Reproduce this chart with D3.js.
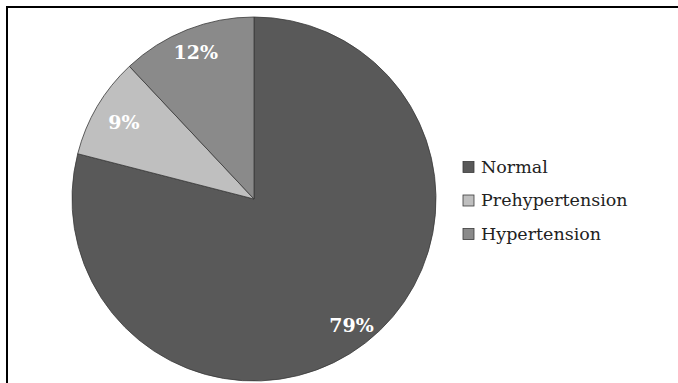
<!DOCTYPE html>
<html>
<head>
<meta charset="utf-8">
<script src="https://cdn.jsdelivr.net/npm/d3@7"></script>
<style>
  html, body { margin: 0; padding: 0; background: #fff; }
  svg { display: block; }
</style>
</head>
<body>
<svg id="chart" width="678" height="383"></svg>
<script>
// Blood pressure categories and their share of the sample (%)
const categories = ["Normal", "Prehypertension", "Hypertension"];
const shares = [79, 9, 12];
const sliceColors = ["#595959", "#bfbfbf", "#8a8a8a"];

const svg = d3.select("#chart");
const W = 678, H = 383;
const cx = 254, cy = 199, radius = 182;
const fontFamily = "'DejaVu Serif', 'Liberation Serif', serif";

// Frame lines along the top and left edges
svg.append("line").attr("x1", 6).attr("y1", 7).attr("x2", W).attr("y2", 7)
  .attr("stroke", "#000").attr("stroke-width", 2);
svg.append("line").attr("x1", 7).attr("y1", 6).attr("x2", 7).attr("y2", H)
  .attr("stroke", "#000").attr("stroke-width", 2);

const color = d3.scaleOrdinal().domain(categories).range(sliceColors);

const pie = d3.pie().sort(null).value(d => d.value);
const data = categories.map((c, i) => ({ name: c, value: shares[i] }));
const arcs = pie(data);

const arc = d3.arc().innerRadius(0).outerRadius(radius);

const g = svg.append("g").attr("transform", `translate(${cx},${cy})`);

g.selectAll("path.slice")
  .data(arcs)
  .enter().append("path")
  .attr("class", "slice")
  .attr("d", arc)
  .attr("fill", d => color(d.data.name))
  .attr("stroke", "#3a3a3a")
  .attr("stroke-width", 0.8);

// Percentage labels, each set at a fraction of the radius along its slice's mid-angle
const labelRadius = { "Normal": 0.875, "Prehypertension": 0.83, "Hypertension": 0.868 };
g.selectAll("text.pct")
  .data(arcs)
  .enter().append("text")
  .attr("class", "pct")
  .attr("transform", d => {
    const r = radius * labelRadius[d.data.name];
    const a = (d.startAngle + d.endAngle) / 2;
    return `translate(${Math.sin(a) * r},${-Math.cos(a) * r})`;
  })
  .attr("text-anchor", "middle")
  .attr("dy", "0.36em")
  .attr("fill", "#fff")
  .attr("font-family", fontFamily)
  .attr("font-weight", "bold")
  .attr("font-size", 19)
  .text(d => d.data.value + "%");

// Legend
const legend = svg.append("g").attr("transform", "translate(463,167)");
const rowH = 33.5;
const rows = legend.selectAll("g.row")
  .data(categories)
  .enter().append("g")
  .attr("class", "row")
  .attr("transform", (d, i) => `translate(0,${i * rowH})`);

rows.append("rect")
  .attr("x", 0).attr("y", -5.5)
  .attr("width", 11).attr("height", 11)
  .attr("fill", d => color(d))
  .attr("stroke", "#3a3a3a")
  .attr("stroke-width", 0.8);

rows.append("text")
  .attr("x", 18).attr("y", 0)
  .attr("dy", "0.34em")
  .attr("fill", "#222")
  .attr("font-family", fontFamily)
  .attr("font-size", 17.5)
  .text(d => d);
</script>
</body>
</html>
